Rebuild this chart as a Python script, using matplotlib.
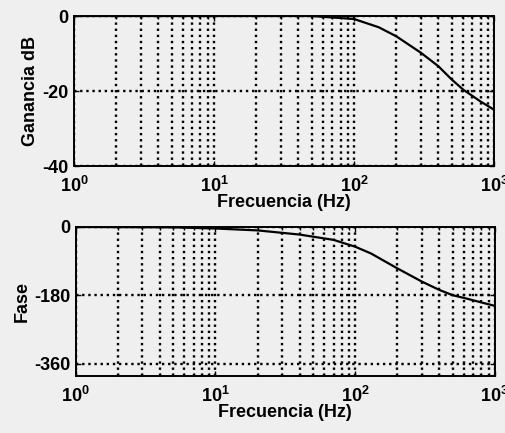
import matplotlib.pyplot as plt

plt.rcParams['font.family'] = ['Liberation Sans', 'DejaVu Sans']
plt.rcParams['font.weight'] = 'bold'
plt.rcParams['axes.unicode_minus'] = False
plt.rcParams['mathtext.fontset'] = 'custom'
plt.rcParams['mathtext.bf'] = 'Liberation Sans:bold'
plt.rcParams['mathtext.rm'] = 'Liberation Sans:bold'

# Ganancia (dB)
f_gan = [1, 10, 50, 100, 150, 200, 300, 400, 500, 600, 800, 1000]
ganancia = [0, 0, 0, -0.8, -3.0, -5.4, -9.8, -13.4, -17.0, -19.6, -22.8, -25.0]

# Fase (grados)
f_fase = [1, 5, 10, 20, 40, 70, 100, 130, 200, 300, 400, 500, 630, 800, 1000]
fase = [0, -1, -4, -9, -20, -34, -52, -70, -109, -144, -166, -180, -189, -199, -208]

xticks = [1, 10, 100, 1000]
xticklabels = [r'$\mathbf{10^{0}}$', r'$\mathbf{10^{1}}$', r'$\mathbf{10^{2}}$', r'$\mathbf{10^{3}}$']

fondo = '#efefef'
fig = plt.figure(figsize=(5.05, 4.33), dpi=100, facecolor=fondo)
ax1 = fig.add_axes([0.1465, 0.6166, 0.832, 0.3464], facecolor=fondo)
ax2 = fig.add_axes([0.150, 0.1316, 0.830, 0.3442], facecolor=fondo)

grid_style = dict(color='black', linestyle=(0, (1, 1.6)), linewidth=1.7)


def preparar(ax):
    ax.set_xscale('log')
    ax.set_xlim(1, 1000)
    ax.set_xticks(xticks)
    ax.set_xticklabels(xticklabels)
    ax.grid(True, which='both', axis='x', **grid_style)
    ax.grid(True, which='major', axis='y', **grid_style)
    ax.tick_params(which='both', direction='in', top=True, right=True,
                   labelsize=13, width=1.0, colors='black')
    ax.tick_params(axis='x', pad=7)
    ax.tick_params(axis='y', pad=4)
    for s in ax.spines.values():
        s.set_linewidth(1.4)
    ax.set_xlabel('Frecuencia (Hz)', fontsize=13, fontweight='bold', labelpad=-1)


ax1.semilogx(f_gan, ganancia, color='black', linewidth=1.6)
preparar(ax1)
ax1.set_ylim(-40, 0)
ax1.set_yticks([-40, -20, 0])
ax1.set_ylabel('Ganancia dB', fontsize=13, fontweight='bold', labelpad=2)

ax2.semilogx(f_fase, fase, color='black', linewidth=1.6)
preparar(ax2)
ax2.set_ylim(-393, 0)
ax2.set_yticks([-360, -180, 0])
ax2.set_ylabel('Fase', fontsize=13, fontweight='bold', labelpad=2)

fig.savefig('out.png', dpi=100, facecolor=fondo)
